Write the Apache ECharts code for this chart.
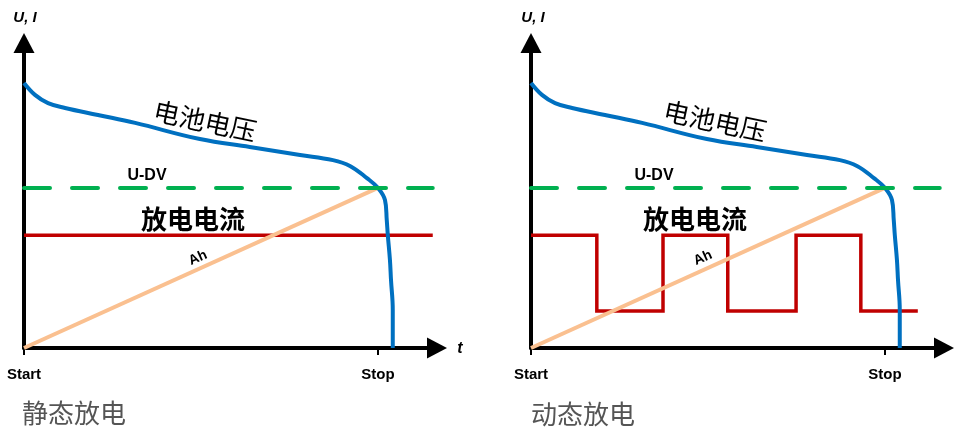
<!DOCTYPE html>
<html>
<head>
<meta charset="utf-8">
<script src="https://cdn.jsdelivr.net/npm/echarts@6/dist/echarts.min.js"></script>
<style>
html,body{margin:0;padding:0;background:#fff;}
#c{width:962px;height:429px;}
</style>
</head>
<body>
<div id="c"></div>
<script>
// ---- data (time in % of Stop, value in % of axis height) ----
const xMax = 116.7;
const yMax = 100;
const voltT = [0, 3.1, 6.8, 11.6, 20.9, 31.4, 49.7, 63.8, 78.0, 87.3, 92.1, 96.9, 100, 102, 102.5, 102.8, 103.4, 103.7, 104.2, 104.2];
const voltU = [86.9, 83.0, 80.3, 78.7, 76.4, 73.8, 68.5, 65.9, 63.3, 61.6, 59.7, 55.7, 52.5, 48.5, 42.0, 37.0, 28.9, 22.3, 12.5, 0];
const udvT = [0, 115.5];
const udvLevel = 52.5;
const staticT = [0, 115.5];
const staticI = 37.0;
const dynT = [0, 18.6, 37.3, 55.6, 74.9, 93.2, 109.3];
const dynI = [37.0, 12.1, 37.0, 12.1, 37.0, 12.1, 12.1];
const ahT = [0, 100];
const ahV = [0, 52.5];
const tickValues = [0, 100];
const tickLabels = ['Start', 'Stop'];
const panelTitles = ['静态放电', '动态放电'];

const zip = (a, b) => a.map((v, i) => [v, Array.isArray(b) ? b[i] : b]);

const LATIN = '"Liberation Sans", Arial, sans-serif';
const CJK = '"Noto Sans CJK SC", sans-serif';

const chart = echarts.init(document.getElementById('c'), null, {renderer: 'canvas'});

const grids = [
  {left: 24, top: 43, width: 413, height: 305, outerBoundsMode: 'none'},
  {left: 531, top: 43, width: 413, height: 305, outerBoundsMode: 'none'}
];

const xAxes = [];
const yAxes = [];
[0, 1].forEach(g => {
  xAxes.push({
    type: 'value', gridIndex: g, min: 0, max: xMax,
    axisLine: {show: true, onZero: false, symbol: ['none', 'triangle'], symbolSize: [21, 20],
      lineStyle: {color: '#000', width: 4}},
    axisTick: {show: false}, axisLabel: {show: false}, splitLine: {show: false}
  });
  xAxes.push({
    type: 'value', gridIndex: g, min: 0, max: xMax, position: 'bottom', offset: 8,
    axisLine: {show: false},
    axisTick: {show: true, customValues: tickValues, length: 7, lineStyle: {color: '#000', width: 2}},
    axisLabel: {show: true, customValues: tickValues, margin: 11,
      formatter: v => tickLabels[tickValues.indexOf(v)],
      fontFamily: LATIN, fontWeight: 'bold', fontSize: 15, color: '#000'},
    splitLine: {show: false}
  });
  yAxes.push({
    type: 'value', gridIndex: g, min: 0, max: yMax,
    axisLine: {show: true, onZero: false, symbol: ['none', 'triangle'], symbolSize: [21, 20],
      lineStyle: {color: '#000', width: 4}},
    axisTick: {show: false}, axisLabel: {show: false}, splitLine: {show: false}
  });
});

const series = [];
[0, 1].forEach(g => {
  const xi = g * 2;
  if (g === 0) {
    series.push({type: 'line', xAxisIndex: xi, yAxisIndex: g, data: zip(staticT, staticI),
      symbol: 'none', silent: true, z: 2,
      lineStyle: {color: '#c00000', width: 3.5}});
  } else {
    series.push({type: 'line', xAxisIndex: xi, yAxisIndex: g, data: zip(dynT, dynI),
      step: 'end', symbol: 'none', silent: true, z: 2,
      lineStyle: {color: '#c00000', width: 3.5, join: 'miter'}});
  }
  series.push({type: 'line', xAxisIndex: xi, yAxisIndex: g, data: zip(ahT, ahV),
    symbol: 'none', silent: true, z: 3,
    lineStyle: {color: '#fac090', width: 4}});
  series.push({type: 'line', xAxisIndex: xi, yAxisIndex: g, data: zip(voltT, voltU),
    symbol: 'none', silent: true, smooth: 0.4, z: 4,
    lineStyle: {color: '#0070c0', width: 4}});
  series.push({type: 'line', xAxisIndex: xi, yAxisIndex: g, data: zip(udvT, udvLevel),
    symbol: 'none', silent: true, z: 5,
    lineStyle: {color: '#00b050', width: 4, type: [26, 22], cap: 'round'}});
});

function txt(text, x, y, font, fill, rotDeg) {
  return {type: 'text', x: x, y: y, rotation: (rotDeg || 0) * Math.PI / 180, z: 100, silent: true,
    style: {text: text, font: font, fill: fill || '#000', align: 'center', verticalAlign: 'middle'}};
}

const graphic = [];
const offsets = [0, 507];
offsets.forEach((dx, i) => {
  graphic.push(txt('U, I', 25 + dx + (i ? 1 : 0), 18, 'italic bold 15px ' + LATIN, '#000'));
  graphic.push(txt('电池电压', 205 + dx + (i ? 3 : 0), 121, 'normal 26px ' + CJK, '#000', -12));
  graphic.push(txt('U-DV', 147 + dx, 176, 'bold 16px ' + LATIN, '#000'));
  graphic.push(txt('放电电流', 193 + dx + (i ? -5 : 0), 219, 'bold 26px ' + CJK, '#000'));
  graphic.push(txt('Ah', 198 + dx - (i ? 2 : 0), 258, 'bold 14px ' + LATIN, '#000', 24.3));
});
graphic.push(txt('t', 460, 349, 'italic bold 16px ' + LATIN, '#000'));
graphic.push(txt(panelTitles[0], 74, 413, 'normal 26px ' + CJK, '#555'));
graphic.push(txt(panelTitles[1], 583, 414, 'normal 26px ' + CJK, '#555'));

chart.setOption({
  animation: false,
  backgroundColor: '#fff',
  grid: grids,
  xAxis: xAxes,
  yAxis: yAxes,
  series: series,
  graphic: graphic
});
</script>
</body>
</html>
